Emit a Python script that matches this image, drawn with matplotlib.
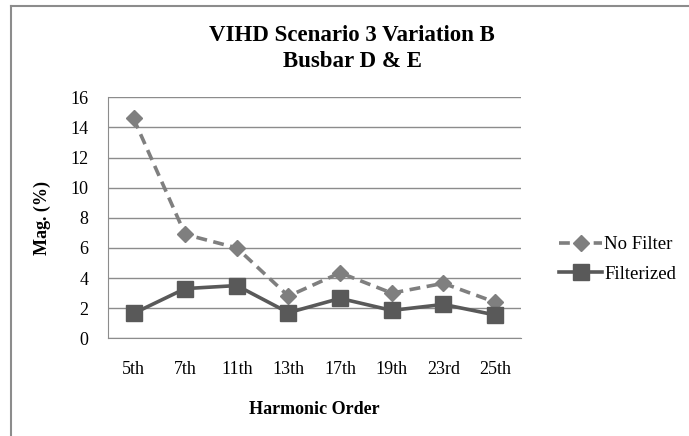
import matplotlib.pyplot as plt
from matplotlib.lines import Line2D

# Harmonic orders and magnitudes (%)
orders = ['5th', '7th', '11th', '13th', '17th', '19th', '23rd', '25th']
no_filter = [14.6, 6.9, 6.0, 2.8, 4.35, 3.0, 3.65, 2.4]
filterized = [1.65, 3.3, 3.5, 1.7, 2.65, 1.85, 2.25, 1.55]
yticks = [0, 2, 4, 6, 8, 10, 12, 14, 16]

plt.rcParams['font.family'] = ['Liberation Serif', 'DejaVu Serif']

fig = plt.figure(figsize=(6.89, 4.36), dpi=100)
ax = fig.add_axes([0.1563, 0.2241, 0.5997, 0.5527])

x = list(range(len(orders)))
ax.plot(x, no_filter, color='#7f7f7f', linestyle=(0, (3, 1.8)), linewidth=2.6,
        marker='D', markersize=8.5, label='No Filter')
ax.plot(x, filterized, color='#595959', linestyle='-', linewidth=2.6,
        marker='s', markersize=11, label='Filterized')

ax.set_xlim(-0.5, len(orders) - 0.5)
ax.set_ylim(0, 16)
ax.set_yticks(yticks)
ax.set_xticks(x)
ax.set_xticklabels(orders)
ax.grid(axis='y', color='#8c8c8c', linewidth=1)
ax.set_axisbelow(True)
ax.tick_params(length=0, labelsize=13)
ax.tick_params(axis='x', pad=16)
ax.tick_params(axis='y', pad=14)
for side in ['top', 'right']:
    ax.spines[side].set_visible(False)
for side in ['left', 'bottom']:
    ax.spines[side].set_color('#8c8c8c')

ax.set_xlabel('Harmonic Order', fontsize=13, fontweight='bold', labelpad=17)
ax.set_ylabel('Mag. (%)', fontsize=13, fontweight='bold', labelpad=14)

fig.text(0.511, 0.943, 'VIHD Scenario 3 Variation B\nBusbar D & E', ha='center',
         va='top', fontsize=16.5, fontweight='bold', linespacing=1.34)

fig.legend(loc='center left', bbox_to_anchor=(0.787, 0.405), frameon=False,
           fontsize=13.5, handlelength=2.3, handletextpad=0.1, labelspacing=0.65)

# chart border
fig.add_artist(Line2D([0.016, 1.0], [0.986, 0.986], color='#8c8c8c', linewidth=1.5))
fig.add_artist(Line2D([0.016, 0.016], [0.0, 0.986], color='#8c8c8c', linewidth=1.5))

fig.savefig('out.png', dpi=100)
